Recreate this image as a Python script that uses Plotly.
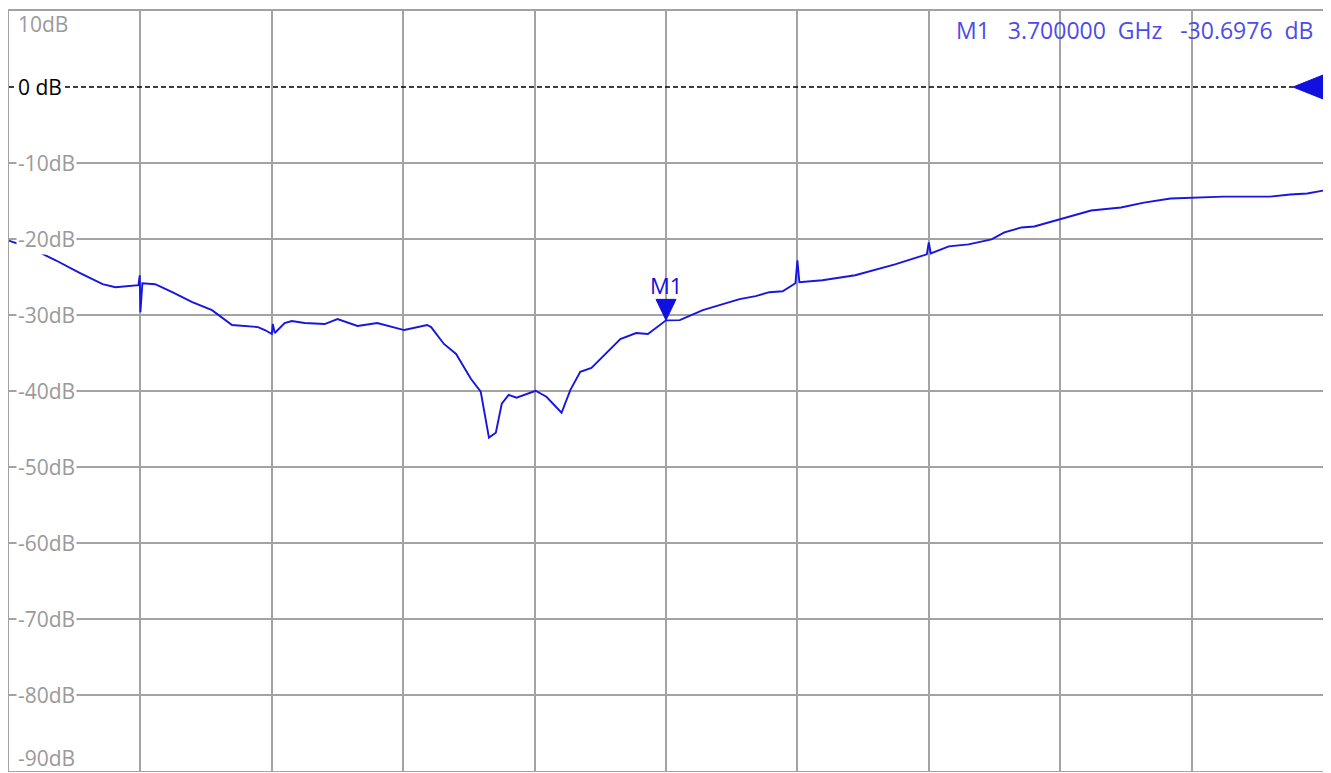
import plotly.graph_objects as go

# ---- data ----
FREQ_GHZ = [1.700, 1.706, 1.761, 1.842, 1.912, 1.985, 2.024, 2.094, 2.098, 2.100, 2.106, 2.145,
            2.197, 2.258, 2.318, 2.379, 2.458, 2.479, 2.500, 2.503, 2.509, 2.539, 2.561, 2.600,
            2.661, 2.700, 2.761, 2.821, 2.903, 2.973, 2.985, 3.024, 3.061, 3.106, 3.136, 3.139,
            3.161, 3.182, 3.200, 3.221, 3.245, 3.303, 3.336, 3.382, 3.409, 3.439, 3.473, 3.561,
            3.609, 3.645, 3.700, 3.742, 3.812, 3.924, 3.973, 4.015, 4.055, 4.094, 4.100, 4.106,
            4.176, 4.276, 4.397, 4.494, 4.500, 4.506, 4.561, 4.621, 4.691, 4.730, 4.782, 4.821,
            4.897, 4.994, 5.085, 5.155, 5.236, 5.303, 5.397, 5.539, 5.600, 5.652, 5.700]
S_DB = [-20.2, -20.31, -21.10, -22.80, -24.38, -25.95, -26.34, -26.08, -24.77, -29.62, -25.82, -25.95,
        -27.00, -28.31, -29.36, -31.32, -31.59, -31.98, -32.50, -31.19, -32.37, -31.06, -30.79, -31.06,
        -31.19, -30.54, -31.45, -31.06, -31.98, -31.32, -31.59, -33.81, -35.12, -38.40, -40.10, -40.76,
        -46.13, -45.48, -41.68, -40.50, -40.89, -39.97, -40.76, -42.86, -39.85, -37.48, -36.96, -33.16,
        -32.37, -32.50, -30.70, -30.67, -29.36, -27.92, -27.52, -27.00, -26.87, -25.82, -22.81, -25.69,
        -25.43, -24.77, -23.33, -22.02, -20.45, -21.89, -20.97, -20.71, -20.05, -19.14, -18.48, -18.35,
        -17.43, -16.25, -15.86, -15.21, -14.68, -14.55, -14.42, -14.42, -14.15, -14.02, -13.63]

X_START, X_STOP, X_DIV = 1.7, 5.7, 0.4
Y_TOP, Y_BOTTOM, Y_DIV = 10, -90, 10
Y_TICKS = [10, 0, -10, -20, -30, -40, -50, -60, -70, -80, -90]
Y_LABELS = ["10dB", "0 dB", "-10dB", "-20dB", "-30dB", "-40dB", "-50dB", "-60dB", "-70dB", "-80dB", "-90dB"]
REF_DB = 0

MARKER_NAME = "M1"
MARKER_F = 3.7
MARKER_DB = -30.6976

TRACE_COLOR = "#1616e0"
GRID_COLOR = "#a3a3a3"
LABEL_COLOR = "#9a9a9a"
READOUT_COLOR = "#4c4ce8"
FONT = "Open Sans"

# page body has an 8px margin: size the figure so the grid lands where the reference has it
ML, MR, MT, MB = 1, 8, 1, 1
plot_w = 1314
plot_h = 762
W = ML + plot_w + MR
H = MT + plot_h + MB
px_per_ghz = plot_w / (X_STOP - X_START)
px_per_db = plot_h / (Y_TOP - Y_BOTTOM)

fig = go.Figure()
fig.add_trace(go.Scatter(x=FREQ_GHZ, y=S_DB, mode="lines",
                         line=dict(color=TRACE_COLOR, width=1.9),
                         hoverinfo="x+y", showlegend=False))

grid_vals = [v for v in range(Y_BOTTOM + Y_DIV, Y_TOP, Y_DIV) if v != REF_DB]

fig.update_layout(
    width=W, height=H,
    margin=dict(l=ML, r=MR, t=MT, b=MB),
    paper_bgcolor="white", plot_bgcolor="white",
    showlegend=False,
    xaxis=dict(range=[X_START, X_STOP], tick0=X_START, dtick=X_DIV,
               showgrid=True, gridcolor=GRID_COLOR, gridwidth=1.6,
               showticklabels=False, zeroline=False, ticks="",
               showline=True, mirror=True, linecolor=GRID_COLOR, linewidth=1.6),
    yaxis=dict(range=[Y_BOTTOM, Y_TOP], tickmode="array", tickvals=grid_vals,
               showgrid=True, gridcolor=GRID_COLOR, gridwidth=1.6,
               showticklabels=False, zeroline=False, ticks="",
               showline=True, mirror=True, linecolor=GRID_COLOR, linewidth=1.6),
)

# reference line (dashed) ending at the reference triangle
tip_paper = 1 - 30 / plot_w
fig.add_shape(type="line", xref="paper", yref="y", x0=0, x1=tip_paper, y0=REF_DB, y1=REF_DB,
              line=dict(color="black", width=1.5, dash="5px,3px"), layer="above")
half_db = 12 / px_per_db
fig.add_shape(type="path", xref="paper", yref="y",
              path=f"M {tip_paper} {REF_DB} L 1 {REF_DB + half_db} L 1 {REF_DB - half_db} Z",
              fillcolor="#1010e0", line=dict(color="#1010e0", width=1), layer="above")

# marker triangle, tip on trace
hw = 10 / px_per_ghz
hh = 21 / px_per_db
fig.add_shape(type="path", xref="x", yref="y",
              path=(f"M {MARKER_F - hw} {MARKER_DB + hh} L {MARKER_F + hw} {MARKER_DB + hh} "
                    f"L {MARKER_F} {MARKER_DB} Z"),
              fillcolor="#1010e0", line=dict(color="#1010e0", width=1), layer="above")
fig.add_annotation(x=MARKER_F, y=MARKER_DB, xref="x", yref="y", text=MARKER_NAME,
                   showarrow=False, yanchor="middle", yshift=35,
                   font=dict(family=FONT, size=22, color="#1010e0"))

# y labels inside the grid
label_x = 7 / plot_w
for val, lab in zip(Y_TICKS, Y_LABELS):
    shift = 0
    if val == Y_TOP:
        shift = -13
    elif val == Y_BOTTOM:
        shift = 13
    fig.add_annotation(x=label_x, y=val, xref="paper", yref="y", text=lab,
                       showarrow=False, xanchor="left", yanchor="middle", yshift=shift,
                       bgcolor="white" if val not in (Y_TOP, Y_BOTTOM) else "rgba(0,0,0,0)",
                       borderpad=1,
                       font=dict(family=FONT, size=21,
                                 color="black" if val == REF_DB else LABEL_COLOR))
    # small tick at the left edge
    if val not in (Y_TOP, Y_BOTTOM, REF_DB):
        fig.add_shape(type="line", xref="paper", yref="y", x0=0, x1=4 / plot_w, y0=val, y1=val,
                      line=dict(color=GRID_COLOR, width=1.5), layer="above")

# marker readout
readout = (f"{MARKER_NAME}\u00a0\u00a0\u00a0{MARKER_F:.6f}\u00a0\u00a0GHz\u00a0\u00a0\u00a0"
           f"{MARKER_DB:.4f}\u00a0\u00a0dB")
fig.add_annotation(x=(1315 - 9) / plot_w, y=1 - (28 - 9) / plot_h, xref="paper", yref="paper",
                   text=readout, showarrow=False, xanchor="right", yanchor="middle",
                   font=dict(family=FONT, size=23, color=READOUT_COLOR))

fig.write_html("out.html")
